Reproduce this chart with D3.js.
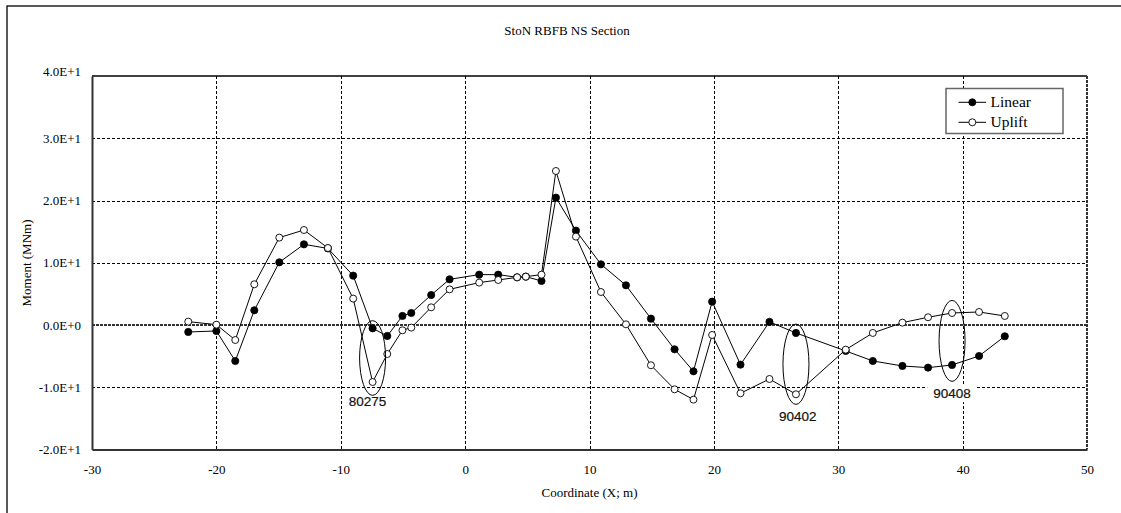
<!DOCTYPE html>
<html><head><meta charset="utf-8">
<script src="https://cdn.jsdelivr.net/npm/d3@7"></script>
<style>body{margin:0;background:#fff}svg{display:block}
.serif{font-family:"Liberation Serif","Times New Roman",Times,serif}
.sans{font-family:"Liberation Sans",Arial,Helvetica,sans-serif}
</style>
</head><body><svg id="c" width="1121" height="513"></svg>
<script>
const xValues = [-22.26,-20.0,-18.48,-16.95,-14.94,-12.96,-11.03,-9.0,-7.44,-6.26,-5.04,-4.33,-2.73,-1.25,1.13,2.66,4.18,4.88,6.14,7.30,8.91,10.92,12.93,14.94,16.84,18.36,19.86,22.14,24.47,26.6,30.6,32.78,35.16,37.22,39.15,41.32,43.39];
const linearValues = [-1.12,-0.96,-5.78,2.36,10.07,12.96,12.3,7.93,-0.53,-1.76,1.45,1.93,4.82,7.34,8.09,8.09,7.66,7.77,7.07,20.46,15.16,9.75,6.38,1.02,-3.9,-7.44,3.75,-6.37,0.5,-1.28,-4.17,-5.78,-6.58,-6.85,-6.42,-4.98,-1.81];
const upliftValues = [0.54,0.06,-2.41,6.54,14.04,15.26,12.37,4.24,-9.16,-4.66,-0.85,-0.42,2.84,5.73,6.81,7.23,7.66,7.77,8.09,24.74,14.2,5.3,0.11,-6.47,-10.33,-11.99,-1.6,-10.97,-8.67,-11.13,-3.96,-1.28,0.38,1.24,1.93,2.09,1.45];
const xTicks = [-30,-20,-10,0,10,20,30,40,50];
const xTickLabels = ["-30","-20","-10","0","10","20","30","40","50"];
const yTicks = [-20,-10,0,10,20,30,40];
const yTickLabels = ["-2.0E+1","-1.0E+1","0.0E+0","1.0E+1","2.0E+1","3.0E+1","4.0E+1"];
const annotations = [
  {label:"80275", x:-7.44, y:-5.3, ry:6.0, lx:-7.85, ly:-12.3, bg:false},
  {label:"90402", x:26.6, y:-6.3, ry:6.45, lx:26.75, ly:-14.6, bg:false},
  {label:"90408", x:39.15, y:-2.55, ry:6.5, lx:39.15, ly:-11.0, bg:true}
];
const seriesNames = ["Linear","Uplift"];

const svg = d3.select("#c");
const L=92, R=1087, T=76, B=449.5;
const x = d3.scaleLinear().domain([-30,50]).range([L,R]);
const y = d3.scaleLinear().domain([-20,40]).range([B,T]);

// outer frame
svg.append("rect").attr("x",7).attr("y",6).attr("width",1300).attr("height",700)
  .attr("fill","none").attr("stroke","#000").attr("stroke-width",1.3);

// title
svg.append("text").attr("class","serif").attr("x",567).attr("y",34.5).attr("text-anchor","middle")
  .attr("font-size",13).text("StoN RBFB NS Section");

// gridlines
const g = svg.append("g");
g.selectAll(".vg").data(xTicks.filter(d=>d>-30&&d<50)).join("line")
  .attr("x1",d=>Math.round(x(d))+0.5).attr("x2",d=>Math.round(x(d))+0.5).attr("y1",T).attr("y2",B)
  .attr("stroke","#000").attr("stroke-width",1).attr("stroke-dasharray","3,2");
g.selectAll(".hg").data(yTicks.filter(d=>d>-20&&d<40&&d!==0)).join("line")
  .attr("x1",L).attr("x2",R).attr("y1",d=>Math.round(y(d))+0.5).attr("y2",d=>Math.round(y(d))+0.5)
  .attr("stroke","#000").attr("stroke-width",1).attr("stroke-dasharray","3,2");
// zero line
g.append("line").attr("x1",L).attr("x2",R).attr("y1",y(0)).attr("y2",y(0))
  .attr("stroke","#333").attr("stroke-width",2).attr("stroke-dasharray","3,1");
// top & right borders
g.append("line").attr("x1",L).attr("x2",R).attr("y1",T).attr("y2",T).attr("stroke","#000").attr("stroke-width",1.3);
g.append("line").attr("x1",R).attr("x2",R).attr("y1",T).attr("y2",B).attr("stroke","#333").attr("stroke-width",2).attr("stroke-dasharray","3,1");

// axes
const ax = svg.append("g").attr("transform",`translate(0,${B})`)
  .call(d3.axisBottom(x).tickValues(xTicks).tickSize(0).tickPadding(15).tickFormat((d,i)=>xTickLabels[i]));
ax.attr("font-family",null);
ax.select(".domain").attr("stroke","#333").attr("stroke-width",2);
ax.selectAll("text").attr("class","serif").attr("font-size",13).attr("fill","#000");
const ay = svg.append("g").attr("transform",`translate(${L},0)`)
  .call(d3.axisLeft(y).tickValues(yTicks).tickSize(0).tickPadding(11).tickFormat((d,i)=>yTickLabels[i]));
ay.attr("font-family",null);
ay.select(".domain").attr("stroke","#333").attr("stroke-width",2);
ay.selectAll("text").attr("class","serif").attr("font-size",13).attr("fill","#000")
  .attr("dy",d=>d===40?"-0.05em":"0.32em");

// axis titles
svg.append("text").attr("class","serif").attr("x",(L+R)/2).attr("y",497).attr("text-anchor","middle")
  .attr("font-size",13).text("Coordinate (X; m)");
svg.append("text").attr("class","serif").attr("transform","translate(31,263) rotate(-90)").attr("text-anchor","middle")
  .attr("font-size",13).text("Moment (MNm)");

// series
const line = d3.line().x(d=>x(d[0])).y(d=>y(d[1]));
const lin = xValues.map((v,i)=>[v,linearValues[i]]);
const upl = xValues.map((v,i)=>[v,upliftValues[i]]);
svg.append("path").datum(lin).attr("d",line).attr("fill","none").attr("stroke","#000").attr("stroke-width",1);
svg.append("path").datum(upl).attr("d",line).attr("fill","none").attr("stroke","#000").attr("stroke-width",1);
svg.append("g").selectAll("circle").data(lin).join("circle")
  .attr("cx",d=>x(d[0])).attr("cy",d=>y(d[1])).attr("r",3.6).attr("fill","#000").attr("stroke","#000").attr("stroke-width",0.8);
svg.append("g").selectAll("circle").data(upl).join("circle")
  .attr("cx",d=>x(d[0])).attr("cy",d=>y(d[1])).attr("r",3.5).attr("fill","#fff").attr("stroke","#000").attr("stroke-width",0.9);

// annotations
annotations.forEach(a=>{
  svg.append("ellipse").attr("cx",x(a.x)).attr("cy",y(a.y)).attr("rx",13).attr("ry",y(0)-y(a.ry))
    .attr("fill","none").attr("stroke","#000").attr("stroke-width",1);
  const t = svg.append("text").attr("class","sans").attr("x",x(a.lx)).attr("y",y(a.ly)).attr("text-anchor","middle")
    .attr("dy","0.35em").attr("font-size",13.5).attr("fill","#111").attr("stroke","#111").attr("stroke-width",0.2).text(a.label);
  if(a.bg){
    const bb = t.node().getBBox();
    svg.insert("rect", () => t.node()).attr("x",bb.x-6).attr("y",bb.y-1).attr("width",bb.width+12).attr("height",bb.height+2).attr("fill","#fff");
  }
});

// legend
const lg = svg.append("g");
lg.append("rect").attr("x",946).attr("y",88.5).attr("width",117).attr("height",45)
  .attr("fill","#fff").attr("stroke","#666").attr("stroke-width",1.5);
seriesNames.forEach((n,i)=>{
  const yy = 102.3 + i*20;
  lg.append("line").attr("x1",958.5).attr("x2",986).attr("y1",yy).attr("y2",yy).attr("stroke","#000").attr("stroke-width",1);
  lg.append("circle").attr("cx",972.3).attr("cy",yy).attr("r",3.5).attr("fill",i===0?"#000":"#fff").attr("stroke","#000").attr("stroke-width",0.9);
  lg.append("text").attr("class","serif").attr("x",990.5).attr("y",yy).attr("dy","0.33em").attr("font-size",15.5).text(n);
});
</script></body></html>
